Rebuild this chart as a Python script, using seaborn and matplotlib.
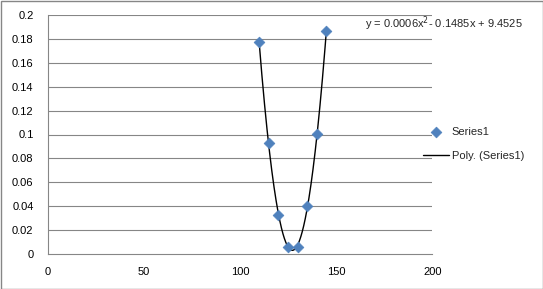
import numpy as np
import pandas as pd
import matplotlib
matplotlib.use("Agg")
import matplotlib.pyplot as plt
from matplotlib.patches import Rectangle
import seaborn as sns

x_vals = [110, 115, 120, 125, 130, 135, 140, 145]
y_vals = [0.177, 0.0925, 0.0325, 0.0058, 0.0063, 0.040, 0.1007, 0.186]
series_name = "Series1"
trend_name = "Poly. (Series1)"
equation = "y = 0.0006x$^{2}$- 0.1485x + 9.4525"
x_ticks = [0, 50, 100, 150, 200]
y_ticks = [0, 0.02, 0.04, 0.06, 0.08, 0.1, 0.12, 0.14, 0.16, 0.18, 0.2]
y_tick_labels = ["0", "0.02", "0.04", "0.06", "0.08", "0.1", "0.12", "0.14", "0.16", "0.18", "0.2"]

sns.set_style("white")
plt.rcParams['font.family'] = ['Liberation Sans', 'DejaVu Sans']

df = pd.DataFrame({"x": x_vals, "y": y_vals})
coef = np.polyfit(df["x"], df["y"], 2)
xs = np.linspace(min(x_vals), max(x_vals), 300)
trend = pd.DataFrame({"x": xs, "y": np.polyval(coef, xs)})

fig = plt.figure(figsize=(5.43, 2.89), dpi=100)
ax = fig.add_axes([47.5/543, 1-254.3/289, (432.3-47.5)/543, (254.3-14.7)/289])

grid_col = "#868686"
for yt in y_ticks[1:]:
    ax.axhline(yt, color=grid_col, lw=0.8, zorder=0)

sns.lineplot(data=trend, x="x", y="y", ax=ax, color="black", lw=1.0, label=trend_name, zorder=2)
sns.scatterplot(data=df, x="x", y="y", ax=ax, marker="D", s=30, color="#4F81BD",
                edgecolor="#4F81BD", linewidth=0.5, label=series_name, zorder=3)

ax.set_xlim(0, 200)
ax.set_ylim(0, 0.2)
ax.set_xticks(x_ticks)
ax.set_yticks(y_ticks)
ax.set_yticklabels(y_tick_labels)
ax.set_xlabel("")
ax.set_ylabel("")
for s in ["top", "right"]:
    ax.spines[s].set_visible(False)
for s in ["left", "bottom"]:
    ax.spines[s].set_color(grid_col)
    ax.spines[s].set_linewidth(0.8)
ax.tick_params(axis="both", direction="out", length=4, width=0.8, color=grid_col,
               labelsize=8, labelcolor="black")
ax.tick_params(axis="x", pad=5)
ax.tick_params(axis="y", pad=6)

fig.text(365/543, 1-24/289, equation, fontsize=8, va="center", ha="left")

handles, labels = ax.get_legend_handles_labels()
order = [labels.index(series_name), labels.index(trend_name)]
ax.get_legend().remove()
fig.legend([handles[i] for i in order], [labels[i] for i in order],
           loc="center left", bbox_to_anchor=(423/543, 1-144/289), frameon=False,
           fontsize=8, handlelength=2.3, handletextpad=0.3, labelspacing=1.2,
           borderaxespad=0, borderpad=0)

fig.add_artist(Rectangle((0.5/543, 0.5/289), 542/543, 288/289, transform=fig.transFigure,
                         fill=False, edgecolor="#868686", lw=1.0))

fig.savefig("out.png", dpi=100)
